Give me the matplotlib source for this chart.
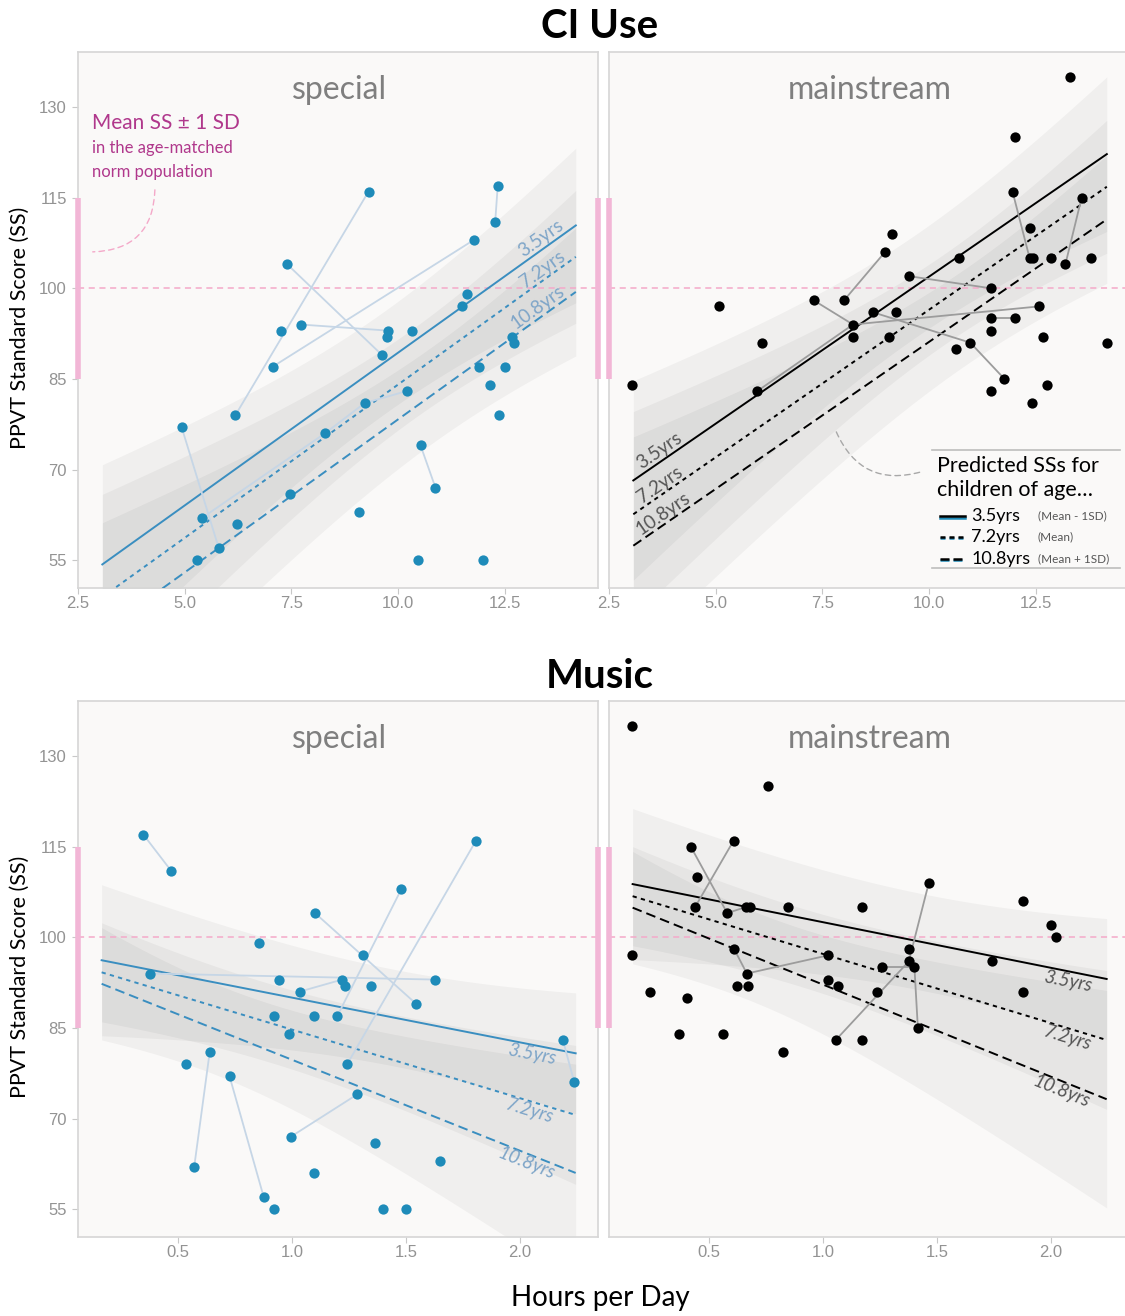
import numpy as np
import matplotlib
matplotlib.use('Agg')
import matplotlib.pyplot as plt
import matplotlib.transforms as mtrans
from matplotlib.patches import FancyArrowPatch
from matplotlib.lines import Line2D

plt.rcParams['font.family'] = ['Lato', 'DejaVu Sans']

# ---------------- data ----------------
ages = ['3.5yrs', '7.2yrs', '10.8yrs']
age_notes = ['(Mean - 1SD)', '(Mean)', '(Mean + 1SD)']

# CI Use - special
ci_sp_hours = [4.93, 5.41, 5.28, 5.80, 6.22, 6.19, 7.06, 7.27, 7.40, 7.72, 7.47, 8.29, 9.22, 9.09,
               9.31, 9.62, 9.76, 9.75, 10.34, 10.21, 10.53, 10.88, 10.48, 11.50, 11.61, 11.78,
               11.89, 11.99, 12.15, 12.28, 12.34, 12.36, 12.52, 12.68, 12.73]
ci_sp_ss = [77, 62, 55, 57, 61, 79, 87, 93, 104, 94, 66, 76, 81, 63, 116, 89, 93, 92, 93, 83, 74, 67,
            55, 97, 99, 108, 87, 55, 84, 111, 117, 79, 87, 92, 91]
ci_sp_links = [(0, 3), (5, 14), (6, 25), (8, 15), (9, 16), (20, 21), (29, 30), (1, 11), (11, 12), (12, 19)]

# CI Use - mainstream
ci_ms_hours = [3.04, 5.09, 6.09, 5.98, 7.30, 8.01, 8.22, 8.22, 8.70, 8.97, 9.13, 9.07, 9.22, 9.54,
               10.70, 10.64, 10.97, 11.45, 11.45, 11.45, 11.45, 11.77, 11.96, 12.01, 12.01, 12.36,
               12.36, 12.45, 12.41, 12.58, 12.68, 12.76, 12.86, 13.20, 13.30, 13.58, 13.81, 14.17]
ci_ms_ss = [84, 97, 91, 83, 98, 98, 94, 92, 96, 106, 109, 92, 96, 102, 105, 90, 91, 100, 95, 93, 83,
            85, 116, 125, 95, 110, 105, 105, 81, 97, 92, 84, 105, 104, 135, 115, 105, 91]
ci_ms_links = [(3, 6), (6, 29), (4, 6), (5, 9), (8, 16), (16, 21), (13, 17), (18, 24), (22, 26), (33, 35)]

# Music - special
mu_sp_hours = [0.348, 0.470, 0.377, 0.536, 0.571, 0.639, 0.726, 0.854, 0.876, 0.920, 0.922, 0.944,
               0.985, 0.995, 1.033, 1.098, 1.101, 1.098, 1.199, 1.220, 1.233, 1.242, 1.286, 1.312,
               1.345, 1.364, 1.398, 1.480, 1.500, 1.544, 1.625, 1.649, 1.807, 2.188, 2.238]
mu_sp_ss = [117, 111, 94, 79, 62, 81, 77, 99, 57, 55, 87, 93, 84, 67, 91, 87, 104, 61, 87, 93, 92, 79,
            74, 97, 92, 66, 55, 108, 55, 89, 93, 63, 116, 83, 76]
mu_sp_links = [(0, 1), (2, 30), (5, 4), (6, 8), (14, 19), (16, 29), (18, 27), (21, 32), (13, 22), (33, 34)]

# Music - mainstream
mu_ms_hours = [0.163, 0.163, 0.241, 0.367, 0.405, 0.420, 0.447, 0.439, 0.563, 0.580, 0.608, 0.611,
               0.621, 0.671, 0.666, 0.661, 0.681, 0.760, 0.826, 0.846, 1.021, 1.023, 1.065, 1.056,
               1.170, 1.172, 1.238, 1.257, 1.375, 1.376, 1.401, 1.416, 1.464, 1.741, 1.879, 1.876,
               2.001, 2.022]
mu_ms_ss = [135, 97, 91, 84, 90, 115, 110, 105, 84, 104, 116, 98, 92, 92, 94, 105, 105, 125, 81, 105,
            97, 93, 92, 83, 105, 83, 91, 95, 98, 96, 95, 85, 109, 96, 106, 91, 102, 100]
mu_ms_links = [(5, 9), (10, 7), (9, 15), (11, 14), (14, 20), (23, 29), (27, 30), (29, 32), (30, 31)]

# fitted lines: predicted SS at both ends of the hours range (per age)
ci_range = [3.07, 14.17]
ci_sp_fit_left = [54.3, 48.9, 43.2]
ci_sp_fit_right = [110.4, 105.2, 99.4]
ci_ms_fit_left = [68.2, 62.6, 57.4]
ci_ms_fit_right = [122.2, 116.8, 111.4]
ci_band_left = [16.5, 17.0, 18.0]
ci_band_min = [8.5, 7.5, 8.0]
ci_band_right = [12.8, 11.0, 10.6]

mu_range = [0.165, 2.244]
mu_sp_fit_left = [96.2, 94.2, 92.3]
mu_sp_fit_right = [80.8, 70.6, 61.0]
mu_ms_fit_left = [108.8, 106.8, 104.9]
mu_ms_fit_right = [93.1, 83.0, 73.2]
mu_band_left = [12.5, 8.2, 9.3]
mu_band_min = [8.0, 6.5, 7.5]
mu_band_right = [10.0, 11.5, 18.0]

norm_mean, norm_sd = 100, 15
ci_xticks = [2.5, 5.0, 7.5, 10.0, 12.5]
mu_xticks = [0.5, 1.0, 1.5, 2.0]
yticks = [55, 70, 85, 100, 115, 130]

# ---------------- style ----------------
W, H = 1125, 1316
fig = plt.figure(figsize=(W / 100, H / 100), dpi=100)
fig.patch.set_facecolor('white')

BLUE = '#1e8bb9'
BLUE_LINE = '#3a8ec0'
BLUE_LABEL = '#7ea5c8'
BLUE_LINK = '#c6d6e6'
GRAY_LINK = '#9c9c9c'
PINK = '#f4a9c9'
PINK_BAR = '#f2b6d6'
MAGENTA = '#b0388c'
PANEL_BG = '#faf9f8'
SPINE = '#d6d6d6'
TICK = '#939393'
dash_styles = [(None, None), (2.2, 2.2), (5.0, 2.6)]


def rect(x0, y0, x1, y1):
    return [x0 / W, 1 - y1 / H, (x1 - x0) / W, (y1 - y0) / H]


def band_halfwidth(xl, xr, hl, hm, hr, x):
    A = hm ** 2
    P, Q = hl ** 2 - A, hr ** 2 - A
    r = np.sqrt(P / Q)
    c = (xl + r * xr) / (1 + r)
    B = P / (c - xl) ** 2
    return np.sqrt(A + B * (x - c) ** 2)


def draw_panel(ax, title, hours, ss, links, rng, fl, fr, bl, bm, br, xlim, xticks,
               pt_color, line_color, link_color, label_color, label_x, label_below, left):
    ax.set_facecolor(PANEL_BG)
    ax.set_xlim(*xlim)
    ax.set_ylim(50.4, 139.1)
    for s in ax.spines.values():
        s.set_color(SPINE)
        s.set_linewidth(1.2)
    # ribbons
    xs = np.linspace(rng[0], rng[1], 200)
    for i in range(3):
        centre = fl[i] + (fr[i] - fl[i]) * (xs - rng[0]) / (rng[1] - rng[0])
        hw = band_halfwidth(rng[0], rng[1], bl[i], bm[i], br[i], xs)
        ax.fill_between(xs, centre - hw, centre + hw, color='black', alpha=0.04,
                        lw=0, zorder=1)
    # norm mean line
    ax.axhline(norm_mean, color=PINK, lw=1.1, dashes=(4, 3), zorder=2)
    # fit lines
    for i in range(3):
        ln, = ax.plot(rng, [fl[i], fr[i]], color=line_color, lw=1.4, zorder=3)
        if dash_styles[i][0] is not None:
            ln.set_dashes(dash_styles[i])
        slope = (fr[i] - fl[i]) / (rng[1] - rng[0])
        yv = fl[i] + slope * (label_x[i] - rng[0])
        ang = np.degrees(np.arctan(slope))
        off = mtrans.offset_copy(ax.transData, fig=fig, x=0, y=(-1.0 if label_below else 1.0),
                                 units='points')
        ax.text(label_x[i], yv, ages[i], rotation=ang, transform_rotates_text=True,
                rotation_mode='anchor', ha='center', va=('top' if label_below else 'bottom'),
                color=label_color, fontsize=13.5, transform=off, zorder=4,
                style=('italic' if label_below else 'normal'))
    # links
    for a, b in links:
        ax.plot([hours[a], hours[b]], [ss[a], ss[b]], color=link_color, lw=1.3, zorder=4)
    ax.plot(hours, ss, 'o', color=pt_color, ms=7.4, mec='none', zorder=5)
    # ticks
    ax.set_xticks(xticks)
    ax.set_xticklabels([f'{t:.1f}' for t in xticks], fontfamily='Liberation Sans',
                       fontsize=12, color=TICK)
    ax.tick_params(axis='x', length=4, color='#c8c8c8', pad=2)
    if left:
        ax.set_yticks(yticks)
        ax.set_yticklabels([str(t) for t in yticks], fontfamily='Liberation Sans',
                           fontsize=12, color=TICK)
        ax.tick_params(axis='y', length=4, color='#c8c8c8', pad=4)
    else:
        ax.set_yticks([])
    ax.text(0.502, 0.929, title, transform=ax.transAxes, ha='center', va='center',
            fontsize=23, color='#7f7f7f', zorder=6)
    # norm +/- 1 SD bars
    bt = mtrans.blended_transform_factory(ax.transAxes, ax.transData)
    edges = [0, 1] if left else [0]
    for e in edges:
        ax.plot([e, e], [norm_mean - norm_sd, norm_mean + norm_sd], transform=bt, color=PINK_BAR,
                lw=4, solid_capstyle='butt', clip_on=False, zorder=7)


top_y = (52, 588)
bot_y = (701, 1237)
ax_tl = fig.add_axes(rect(78, top_y[0], 598, top_y[1]))
ax_tr = fig.add_axes(rect(609, top_y[0], 1129, top_y[1]))
ax_bl = fig.add_axes(rect(78, bot_y[0], 598, bot_y[1]))
ax_br = fig.add_axes(rect(609, bot_y[0], 1129, bot_y[1]))

ci_xlim = (2.5, 14.69)
mu_xlim = (0.0614, 2.342)

draw_panel(ax_tl, 'special', ci_sp_hours, ci_sp_ss, ci_sp_links, ci_range, ci_sp_fit_left,
           ci_sp_fit_right, ci_band_left, ci_band_min, ci_band_right, ci_xlim, ci_xticks,
           BLUE, BLUE_LINE, BLUE_LINK, BLUE_LABEL, [13.47, 13.5, 13.4], False, True)
draw_panel(ax_tr, 'mainstream', ci_ms_hours, ci_ms_ss, ci_ms_links, ci_range, ci_ms_fit_left,
           ci_ms_fit_right, ci_band_left, ci_band_min, ci_band_right, ci_xlim, ci_xticks,
           'black', 'black', GRAY_LINK, '#555555', [3.8, 3.8, 3.88], False, False)
draw_panel(ax_bl, 'special', mu_sp_hours, mu_sp_ss, mu_sp_links, mu_range, mu_sp_fit_left,
           mu_sp_fit_right, mu_band_left, mu_band_min, mu_band_right, mu_xlim, mu_xticks,
           BLUE, BLUE_LINE, BLUE_LINK, BLUE_LABEL, [2.06, 2.05, 2.04], True, True)
draw_panel(ax_br, 'mainstream', mu_ms_hours, mu_ms_ss, mu_ms_links, mu_range, mu_ms_fit_left,
           mu_ms_fit_right, mu_band_left, mu_band_min, mu_band_right, mu_xlim, mu_xticks,
           'black', 'black', GRAY_LINK, '#555555', [2.08, 2.08, 2.06], True, False)

# titles and axis labels
fig.text(600 / W, 1 - 27 / H, 'CI Use', ha='center', va='center', fontsize=29, fontweight='bold')
fig.text(600 / W, 1 - 676 / H, 'Music', ha='center', va='center', fontsize=29, fontweight='bold')
for yc in [(top_y[0] + top_y[1]) / 2 + 8, (bot_y[0] + bot_y[1]) / 2 + 8]:
    fig.text(20 / W, 1 - yc / H, 'PPVT Standard Score (SS)', rotation=90, ha='center',
             va='center', fontsize=15.5)
fig.text(600 / W, 1 - 1298 / H, 'Hours per Day', ha='center', va='center', fontsize=20)

# norm annotation (top-left)
ax_tl.text(0.027, 0.8675, 'Mean SS \u00b1 1 SD', transform=ax_tl.transAxes, color=MAGENTA,
           fontsize=15, ha='left', va='center')
ax_tl.text(0.027, 0.821, 'in the age-matched', transform=ax_tl.transAxes, color=MAGENTA,
           fontsize=12, ha='left', va='center')
ax_tl.text(0.027, 0.776, 'norm population', transform=ax_tl.transAxes, color=MAGENTA,
           fontsize=12, ha='left', va='center')
arc1 = FancyArrowPatch((0.148, 0.748), (0.023, 0.627), transform=ax_tl.transAxes,
                       connectionstyle='arc3,rad=-0.49', arrowstyle='-', color=PINK,
                       lw=1.0, linestyle=(0, (4, 3)), zorder=6)
ax_tl.add_patch(arc1)

# legend (top-right)
arc2 = FancyArrowPatch((0.435, 0.296), (0.605, 0.218), transform=ax_tr.transAxes,
                       connectionstyle='arc3,rad=0.45', arrowstyle='-', color='#a8a8a8',
                       lw=1.0, linestyle=(0, (4, 3)), zorder=6)
ax_tr.add_patch(arc2)
for yy in [0.257, 0.037]:
    ax_tr.add_line(Line2D([0.621, 0.983], [yy, yy], transform=ax_tr.transAxes, color='#bdbdbd',
                          lw=1.2, zorder=8))
ax_tr.text(0.631, 0.228, 'Predicted SSs for', transform=ax_tr.transAxes, fontsize=15.5,
           ha='left', va='center', zorder=8)
ax_tr.text(0.631, 0.183, 'children of age\u2026', transform=ax_tr.transAxes, fontsize=15.5,
           ha='left', va='center', zorder=8)
rows = [0.134, 0.095, 0.054]
for i in range(3):
    yb = mtrans.offset_copy(ax_tr.transAxes, fig=fig, x=0, y=-1.0, units='points')
    lb = Line2D([0.637, 0.685], [rows[i], rows[i]], transform=yb, color=BLUE, lw=1.8, zorder=8)
    lk = Line2D([0.637, 0.685], [rows[i], rows[i]], transform=ax_tr.transAxes, color='black',
                lw=1.8, zorder=9)
    if dash_styles[i][0] is not None:
        d = (2.0, 1.6) if i == 1 else (3.6, 1.6)
        lb.set_dashes(d)
        lk.set_dashes(d)
    ax_tr.add_line(lb)
    ax_tr.add_line(lk)
    ax_tr.text(0.697, rows[i], ages[i], transform=ax_tr.transAxes, fontsize=13, ha='left',
               va='center', zorder=9)
    ax_tr.text(0.825, rows[i], age_notes[i], transform=ax_tr.transAxes, fontsize=8.5,
               color='#555555', ha='left', va='center', zorder=9)

fig.savefig('out.png', dpi=100, facecolor='white')
